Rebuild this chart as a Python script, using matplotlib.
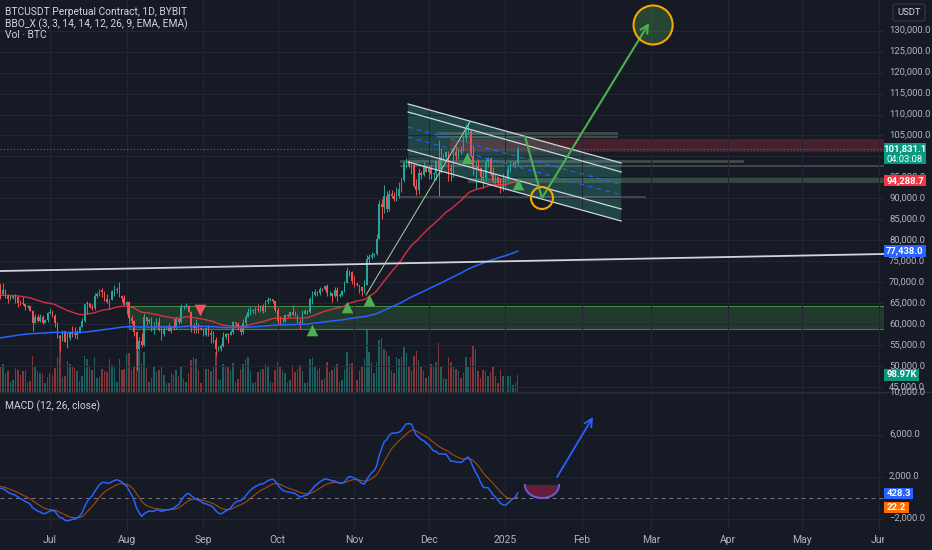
import numpy as np
import pandas as pd
import matplotlib
matplotlib.use('Agg')
import matplotlib.pyplot as plt
from matplotlib import transforms
from matplotlib.patches import Rectangle, Ellipse, Polygon, FancyBboxPatch

plt.rcParams['font.family'] = ['Roboto', 'DejaVu Sans']

# ---- daily BTCUSDT (Bybit perp), from 2024-06-11, prices in thousand USDT ----
start_date = '2024-06-11'
first_open = 69.5
closes = [
    # Jun 11-30
    67.3, 68.25, 66.75, 66.0, 66.2, 66.65, 66.5, 65.15, 64.95, 64.85,
    64.1, 64.25, 63.2, 60.3, 61.8, 60.85, 61.6, 60.3, 60.95, 62.7,
    # Jul
    62.85, 62.05, 60.2, 57.05, 56.65, 58.25, 55.85, 56.7, 58.0, 57.75,
    57.35, 57.9, 59.2, 60.8, 64.75, 65.05, 64.1, 63.95, 66.7, 67.15,
    68.15, 67.55, 65.95, 65.35, 65.8, 67.9, 68.25, 68.25, 66.8, 66.2, 64.6,
    # Aug
    65.35, 61.45, 60.7, 58.1, 54.0, 56.05, 55.1, 61.7, 60.85, 60.9,
    58.7, 59.35, 60.6, 58.7, 57.55, 58.9, 59.5, 58.4, 59.45, 59.0,
    61.15, 60.4, 64.1, 64.2, 64.25, 62.85, 59.4, 59.05, 59.35, 59.1, 58.95,
    # Sep
    57.3, 59.1, 57.5, 57.95, 56.15, 53.95, 54.15, 54.85, 57.0, 57.65,
    57.35, 58.15, 60.55, 59.95, 59.15, 58.2, 60.3, 61.75, 62.95, 63.2,
    63.35, 63.6, 63.35, 64.3, 63.15, 65.2, 65.8, 65.9, 65.6, 63.3,
    # Oct
    60.8, 60.65, 60.75, 62.1, 62.05, 62.8, 62.2, 62.15, 60.6, 60.3,
    62.45, 63.2, 62.85, 66.05, 67.05, 67.6, 67.4, 68.4, 68.35, 69.0,
    67.4, 67.4, 66.7, 68.2, 66.6, 67.0, 67.95, 69.9, 72.75, 72.35, 70.25,
    # Nov
    69.5, 69.3, 68.75, 67.8, 69.35, 75.6, 75.9, 76.55, 76.7, 80.4,
    88.7, 87.95, 90.5, 87.35, 91.05, 90.6, 89.85, 90.5, 92.3, 94.3,
    98.4, 98.95, 97.7, 98.0, 93.05, 91.95, 95.95, 95.65, 97.45, 96.4,
    # Dec
    97.2, 95.85, 96.0, 98.8, 97.0, 99.85, 99.95, 101.15, 97.35, 96.6,
    101.1, 100.0, 101.45, 101.4, 104.45, 106.05, 106.15, 100.2, 97.45, 97.75,
    97.2, 95.15, 94.85, 98.65, 99.4, 95.8, 94.15, 95.15, 93.7, 92.8, 93.5,
    # Jan 1-6
    94.6, 96.9, 98.15, 98.25, 98.35, 101.831,
]
highs = [
    69.55, 69.9, 68.4, 67.3, 66.9, 66.95, 67.2, 66.6, 65.7, 66.5,
    65.05, 64.5, 64.5, 63.4, 62.3, 62.4, 62.3, 62.2, 61.2, 63.0,
    63.8, 63.3, 62.3, 60.5, 57.5, 58.5, 58.45, 58.2, 58.3, 59.5,
    59.4, 58.5, 59.5, 61.4, 64.9, 65.4, 65.1, 64.8, 67.4, 67.6,
    68.4, 68.5, 67.8, 67.1, 66.1, 68.2, 69.4, 68.9, 70.0, 67.0, 66.9,
    65.6, 65.6, 62.2, 61.1, 58.3, 57.0, 57.8, 62.7, 61.8, 61.4,
    61.8, 60.5, 61.5, 61.8, 59.8, 59.8, 59.7, 60.2, 59.6, 61.4,
    61.8, 61.4, 64.9, 64.5, 65.0, 64.5, 63.2, 60.2, 61.2, 60.2, 59.4,
    59.0, 59.4, 59.8, 58.5, 58.3, 56.9, 54.8, 55.3, 58.1, 58.0,
    57.95, 58.6, 60.7, 60.6, 60.4, 59.2, 61.3, 62.5, 63.8, 64.1,
    63.5, 64.0, 64.8, 64.5, 64.8, 65.8, 66.5, 66.2, 66.0, 65.6,
    64.1, 62.0, 61.7, 62.5, 62.4, 63.0, 64.5, 63.2, 62.5, 61.3,
    63.4, 63.5, 63.4, 66.5, 67.9, 68.4, 68.0, 68.9, 68.7, 69.4,
    69.5, 67.8, 67.5, 68.8, 68.8, 67.4, 68.2, 70.2, 73.6, 72.9, 72.7,
    71.6, 70.0, 69.4, 68.9, 70.6, 76.5, 76.8, 77.2, 76.9, 81.5,
    89.5, 89.9, 93.3, 91.8, 91.9, 91.9, 91.6, 92.6, 94.0, 94.9,
    99.0, 99.6, 98.8, 98.7, 98.5, 94.7, 97.3, 96.6, 98.7, 98.0,
    98.0, 98.1, 96.3, 99.0, 104.0, 101.9, 100.5, 101.4, 101.2, 98.2,
    101.9, 102.5, 102.0, 102.6, 105.2, 107.8, 108.3, 106.5, 102.8, 98.9,
    99.5, 97.4, 96.4, 99.4, 99.9, 99.9, 97.5, 95.9, 95.2, 94.9, 96.1,
    95.0, 97.8, 98.9, 98.7, 98.8, 102.4,
]
lows = [
    66.1, 66.9, 66.3, 65.0, 65.8, 65.9, 65.1, 64.1, 64.6, 64.5,
    63.4, 63.95, 63.2, 58.4, 60.6, 60.6, 60.5, 60.0, 60.4, 60.6,
    62.5, 61.8, 59.4, 56.8, 53.5, 56.0, 55.7, 54.3, 56.2, 56.9,
    56.6, 56.5, 57.8, 59.2, 60.6, 62.5, 63.8, 63.3, 63.3, 66.2,
    66.6, 66.5, 65.5, 65.1, 63.5, 65.7, 66.8, 67.4, 66.5, 65.3, 64.5,
    62.3, 61.1, 60.1, 57.2, 49.0, 53.8, 54.6, 54.9, 59.7, 60.3,
    58.4, 57.6, 59.0, 58.4, 56.2, 57.1, 58.8, 58.3, 57.9, 58.5,
    58.9, 60.0, 60.3, 63.6, 63.8, 62.8, 58.1, 57.8, 57.9, 58.0, 58.7,
    57.2, 57.2, 57.2, 55.6, 55.6, 52.5, 53.7, 53.6, 54.5, 56.4,
    55.6, 57.3, 57.6, 59.4, 58.7, 57.5, 57.6, 59.2, 61.6, 62.2,
    62.7, 62.4, 62.9, 62.8, 62.7, 62.9, 64.9, 65.4, 65.1, 62.9,
    60.1, 59.9, 60.3, 60.5, 61.7, 61.8, 62.1, 61.9, 60.3, 58.9,
    60.1, 62.4, 62.3, 62.6, 64.8, 66.6, 66.7, 67.0, 67.9, 68.1,
    66.6, 66.6, 65.3, 66.5, 65.6, 66.5, 66.8, 67.6, 69.7, 71.4, 69.6,
    68.8, 69.1, 67.5, 66.8, 67.5, 69.3, 74.4, 75.5, 75.9, 76.4,
    80.2, 85.1, 86.6, 86.7, 87.1, 90.1, 89.3, 89.4, 90.1, 91.6,
    94.0, 97.3, 97.2, 95.8, 92.6, 90.8, 91.0, 94.7, 95.3, 96.2,
    94.6, 94.6, 94.4, 94.5, 90.5, 96.0, 99.0, 98.8, 94.1, 94.2,
    95.0, 99.2, 99.3, 100.6, 101.2, 103.4, 105.2, 99.9, 95.6, 92.2,
    96.5, 94.2, 92.4, 94.2, 97.6, 95.4, 93.7, 93.4, 93.2, 91.3, 91.8,
    92.7, 94.2, 96.2, 97.6, 97.3, 97.9,
]
volumes = [  # thousand BTC
    150, 160, 110, 120, 60, 70, 140, 130, 100, 120,
    130, 55, 65, 210, 150, 120, 110, 105, 50, 85,
    110, 100, 140, 200, 330, 85, 95, 180, 160, 150,
    140, 120, 65, 90, 210, 190, 150, 130, 200, 80,
    85, 135, 120, 115, 190, 155, 150, 60, 190, 130, 135,
    220, 225, 130, 150, 330, 240, 170, 230, 140, 60,
    80, 150, 115, 125, 150, 100, 50, 55, 110, 100,
    130, 90, 150, 75, 60, 110, 185, 205, 190, 130, 55,
    80, 135, 135, 120, 150, 230, 75, 70, 165, 145,
    150, 130, 170, 60, 75, 135, 165, 190, 205, 120,
    55, 60, 115, 130, 135, 165, 150, 60, 55, 130,
    175, 150, 130, 110, 55, 70, 155, 115, 135, 155,
    120, 55, 60, 190, 205, 150, 130, 140, 70, 80,
    175, 115, 130, 150, 165, 60, 70, 135, 230, 165, 170,
    165, 70, 120, 150, 190, 360, 230, 175, 110, 175,
    300, 310, 250, 240, 210, 120, 110, 200, 190, 200,
    260, 225, 150, 120, 210, 235, 185, 150, 120, 80,
    95, 160, 150, 175, 285, 150, 80, 75, 200, 175,
    150, 135, 120, 80, 110, 200, 150, 200, 265, 250,
    120, 80, 130, 120, 95, 115, 150, 90, 55, 130, 95,
    70, 95, 90, 40, 50, 98.97,
]

ema_red_len, ema_red_seed = 50, 66.8
ema_blue_len, ema_blue_seed = 200, 56.6
macd_seed_fast, macd_seed_slow, macd_seed_signal = 67900.0, 66900.0, 1100.0

# drawings: (day index, price k)
green_zone = (51.9, 58.84, 64.35)            # x start, low, high
white_trend = [(0.0, 72.67), (357.0, 76.73)]
thin_trend = [(147.7, 66.95), (189.7, 108.22)]
channel_x = (164.7, 250.8)
channel_lines = [(112.51, 98.44), (110.6, 96.29), (101.54, 87.46), (98.68, 84.6)]
channel_dashed = [(107.02, 93.31), (104.64, 90.8)]
gray_zones = [  # x0, x1, low, high, color, alpha
    (176.4, 249.5, 104.40, 105.83, '#8a9a8c', 0.35),
    (181.6, 357.0, 101.06, 104.16, '#f23645', 0.22),
    (161.4, 300.4, 98.44, 99.15, '#8a9a8c', 0.35),
    (161.4, 357.0, 97.5, 97.9, '#8a9a8c', 0.35),
    (188.9, 357.0, 93.67, 94.86, '#6f9a74', 0.35),
    (161.4, 260.9, 89.85, 90.56, '#8a9a8c', 0.35),
]
up_signals = [(125.9, 58.6), (140.0, 64.09), (148.9, 65.76), (188.7, 99.63), (209.1, 93.43)]
down_signals = [(80.6, 63.37)]
path_pts = [(212.0, 104.64), (218.8, 90.09), (262.1, 131.83)]
small_circle = (218.8, 90.09)
big_circle = (263.7, 131.36)
macd_bowl = (218.8, 1190.0, 6.9, 1240.0)      # centre x, y, half width, depth
macd_arrow = [(224.9, 1950.0), (239.4, 7670.0)]

month_labels = ['Jul', 'Aug', 'Sep', 'Oct', 'Nov', 'Dec', '2025', 'Feb', 'Mar', 'Apr', 'May', 'Jun']
price_ticks = list(range(45, 131, 5))
hidden_price_labels = [100]                   # sits under the last-price box
macd_ticks = [-2000, 2000, 6000, 10000]

BG = '#161a25'
GRID = '#232733'
TXT = '#b2b5be'
UP, DOWN = '#26a69a', '#ef5350'
FS = 7.4
AXFS = 6.8


def ema(values, length, seed):
    k = 2.0 / (length + 1)
    out, prev = [], seed
    for v in values:
        prev = prev + k * (v - prev)
        out.append(prev)
    return np.array(out)


c = np.array(closes)
o = np.concatenate([[first_open], c[:-1]])
h = np.maximum(np.array(highs), np.maximum(o, c))
l = np.minimum(np.array(lows), np.minimum(o, c))
v = np.array(volumes)
idx = np.arange(len(c))
up = c >= o

ema_red = ema(c, ema_red_len, ema_red_seed)
ema_blue = ema(c, ema_blue_len, ema_blue_seed)
fast = ema(c * 1000, 12, macd_seed_fast)
slow = ema(c * 1000, 26, macd_seed_slow)
macd = fast - slow
signal = ema(macd, 9, macd_seed_signal)

t0 = pd.Timestamp(start_date)
months = pd.date_range('2024-07-01', '2025-06-01', freq='MS')
month_pos = [(m - t0).days for m in months]

W, H = 932, 550
fig = plt.figure(figsize=(W / 100, H / 100), dpi=100, facecolor=BG)
plot_w = 884 / W
ax = fig.add_axes([0, 1 - 392 / H, plot_w, 392 / H])
axv = ax.twinx()
axm = fig.add_axes([0, 20 / H, plot_w, 138 / H], sharex=ax)

xlim = (-0.2, 357.0)
vol_top = 2270
ax.set_xlim(*xlim)
ax.set_ylim(43.81, 137.32)
axv.set_ylim(0, vol_top)
axm.set_ylim(-3095, 10048)

for a in (ax, axv, axm):
    for s in a.spines.values():
        s.set_visible(False)
    a.set_facecolor(BG)
ax.set_zorder(axv.get_zorder() + 1)
ax.patch.set_visible(False)

ax.set_yticks(price_ticks)
ax.set_xticks(month_pos)
ax.tick_params(length=0, labelbottom=False, labelleft=False)
ax.grid(True, color=GRID, lw=0.7)
axv.set_yticks([])
axm.set_yticks(macd_ticks)
axm.tick_params(axis='y', length=0, labelleft=False)
axm.tick_params(axis='x', length=0, colors=TXT, labelsize=7.5, pad=3.5)
axm.set_xticks(month_pos)
axm.set_xticklabels(month_labels)
axm.grid(True, color=GRID, lw=0.7)

# volume
axv.bar(idx, v, width=0.6, color=np.where(up, UP, DOWN), alpha=0.5, lw=0)

# zones and drawings behind candles
x0, lo, hi = green_zone
ax.add_patch(Rectangle((x0, lo), xlim[1] - x0, hi - lo, fc='#4caf50', alpha=0.22,
                       ec='none', zorder=1))
ax.add_patch(Rectangle((x0, lo), xlim[1] - x0, hi - lo, fc='none', ec='#4caf50',
                       lw=0.8, alpha=0.7, zorder=1))
cx0, cx1 = channel_x
top, bot = channel_lines[0], channel_lines[-1]
ax.add_patch(Polygon([(cx0, top[0]), (cx1, top[1]), (cx1, bot[1]), (cx0, bot[0])],
                     closed=True, fc='#3bb5a0', alpha=0.28, ec='none', zorder=1))
for y0, y1 in channel_lines:
    ax.plot([cx0, cx1], [y0, y1], color='#d1d4dc', lw=0.9, zorder=3)
for y0, y1 in channel_dashed:
    ax.plot([cx0, cx1], [y0, y1], color='#2962ff', lw=0.8, ls=(0, (4, 4)), zorder=3)
for gx0, gx1, glo, ghi, gc, ga in gray_zones:
    ax.add_patch(Rectangle((gx0, glo), gx1 - gx0, ghi - glo, fc=gc, alpha=ga,
                           ec='none', zorder=1.5))

# candles
ax.vlines(idx, l, h, colors=np.where(up, UP, DOWN), lw=0.7, zorder=2)
ax.bar(idx, np.maximum(np.abs(c - o), 0.12), bottom=np.minimum(o, c), width=0.62,
       color=np.where(up, UP, DOWN), lw=0, zorder=2.1)

ax.plot(idx, ema_red, color='#f23645', lw=1.0, alpha=0.85, zorder=2.5)
ax.plot(idx, ema_blue, color='#2962ff', lw=1.1, zorder=2.5)
ax.axhline(c[-1], color='#089981', lw=0.8, ls=(0, (1, 2)), zorder=1.6)

(wx0, wy0), (wx1, wy1) = white_trend
ax.plot([wx0, wx1], [wy0, wy1], color='#d1d4dc', lw=1.3, zorder=3)
(tx0, ty0), (tx1, ty1) = thin_trend
ax.plot([tx0, tx1], [ty0, ty1], color='#a5d6a7', lw=0.7, zorder=3)

ux, uy = zip(*up_signals)
ax.scatter(ux, uy, marker='^', s=70, color='#4caf50', lw=0, zorder=4)
dx, dy = zip(*down_signals)
ax.scatter(dx, dy, marker='v', s=70, color='#f7525f', lw=0, zorder=4)

px, py = zip(*path_pts)
ax.plot(px[:2], py[:2], color='#4caf50', lw=1.5, zorder=5)
ax.annotate('', xy=path_pts[2], xytext=path_pts[1],
            arrowprops=dict(arrowstyle='->', color='#4caf50', lw=1.5,
                            mutation_scale=14, shrinkA=0, shrinkB=0), zorder=5)
ax.add_patch(Ellipse(small_circle, 8.9, 5.25, fc='none', ec='#f7a600', lw=1.5, zorder=5))
ax.add_patch(Ellipse(big_circle, 15.8, 9.3, fc='#4caf50', alpha=0.3, ec='none', zorder=4.9))
ax.add_patch(Ellipse(big_circle, 15.8, 9.3, fc='none', ec='#f7a600', lw=1.5, zorder=5))

# MACD pane
axm.axhline(0, color='#787b86', lw=0.7, ls=(0, (4, 4)))
axm.plot(idx, signal, color='#ff6d00', lw=0.8, alpha=0.6)
axm.plot(idx, macd, color='#2962ff', lw=1.1)
bx, by, bw, bd = macd_bowl
ang = np.linspace(np.pi, 2 * np.pi, 40)
bowl = np.column_stack([bx + bw * np.cos(ang), by + bd * np.sin(ang)])
axm.add_patch(Polygon(bowl, closed=True, fc='#7b1f3f', alpha=0.8, ec='none'))
axm.plot(bowl[:, 0], bowl[:, 1], color='#6a5acd', lw=1.5)
axm.annotate('', xy=macd_arrow[1], xytext=macd_arrow[0],
             arrowprops=dict(arrowstyle='->', color='#2962ff', lw=1.3,
                             mutation_scale=14, shrinkA=0, shrinkB=0))

# header texts
hdr = dict(color='#d1d4dc', fontsize=FS, va='center', ha='left')
fig.text(5 / W, 1 - 12 / H, 'BTCUSDT Perpetual Contract, 1D, BYBIT', **hdr)
fig.text(5 / W, 1 - 24 / H, 'BBO_X (3, 3, 14, 14, 12, 26, 9, EMA, EMA)', **hdr)
fig.text(5 / W, 1 - 35 / H, 'Vol · BTC', **hdr)
fig.text(5 / W, 1 - 406 / H, 'MACD (12, 26, close)', **hdr)

# right price scale
fig.add_artist(Rectangle((plot_w, 0), 1 - plot_w, 1, transform=fig.transFigure,
                         fc=BG, ec='none', zorder=1))
fig.add_artist(plt.Line2D([0, 1], [1 - 392 / H] * 2, transform=fig.transFigure,
                          color='#2a2e39', lw=0.8, zorder=1.2))
lab_x = 889 / W
tp = transforms.blended_transform_factory(fig.transFigure, ax.transData)
tm = transforms.blended_transform_factory(fig.transFigure, axm.transData)
tv = transforms.blended_transform_factory(fig.transFigure, axv.transData)
for p in price_ticks:
    if p in hidden_price_labels:
        continue
    fig.text(lab_x, p, f'{p * 1000:,.1f}', transform=tp, color=TXT, fontsize=AXFS,
             va='center', ha='left', zorder=2)
for m in macd_ticks:
    s = f'{m:,.1f}'.replace('-', '\u2212')
    fig.text(lab_x, m, s, transform=tm, color=TXT, fontsize=AXFS, va='center',
             ha='left', zorder=2)

box_w = 42 / W


def value_box(trans, y, hgt, color, lines, width=box_w):
    fig.add_artist(Rectangle((plot_w, y - hgt / 2), width, hgt, transform=trans,
                             fc=color, ec='none', zorder=3))
    n = len(lines)
    for i, s in enumerate(lines):
        yy = y + hgt / 2 - hgt * (i + 0.5) / n
        fig.text(plot_w + width / 2, yy, s, transform=trans, color='white',
                 fontsize=AXFS, va='center', ha='center', zorder=4,
                 fontweight='bold' if i == 0 else 'normal')


value_box(tp, 101.831 - 1.2, 21 / 4.192, '#089981', ['101,831.1', '04:03:08'])
value_box(tp, 94.2887, 11 / 4.192, '#f23645', ['94,288.7'])
value_box(tp, 77.438, 12 / 4.192, '#2962ff', ['77,438.0'])
value_box(tv, 98.97, 12 * vol_top / 391, '#089981', ['98.97K'], width=35 / W)
value_box(tm, 428.3, 11 * 1000 / 10.5, '#2962ff', ['428.3'], width=29 / W)
value_box(tm, -905.0, 11 * 1000 / 10.5, '#ff6d00', ['22.2'], width=25 / W)

fig.add_artist(FancyBboxPatch((893 / W, 1 - 21 / H), 32 / W, 17 / H,
                              boxstyle='round,pad=0,rounding_size=0.004',
                              transform=fig.transFigure, fc=BG, ec='#363a45',
                              lw=0.8, zorder=3))
fig.text(909 / W, 1 - 12.5 / H, 'USDT', color='#d1d4dc', fontsize=AXFS,
         va='center', ha='center', zorder=4)

fig.savefig('out.png', dpi=100, facecolor=BG)
